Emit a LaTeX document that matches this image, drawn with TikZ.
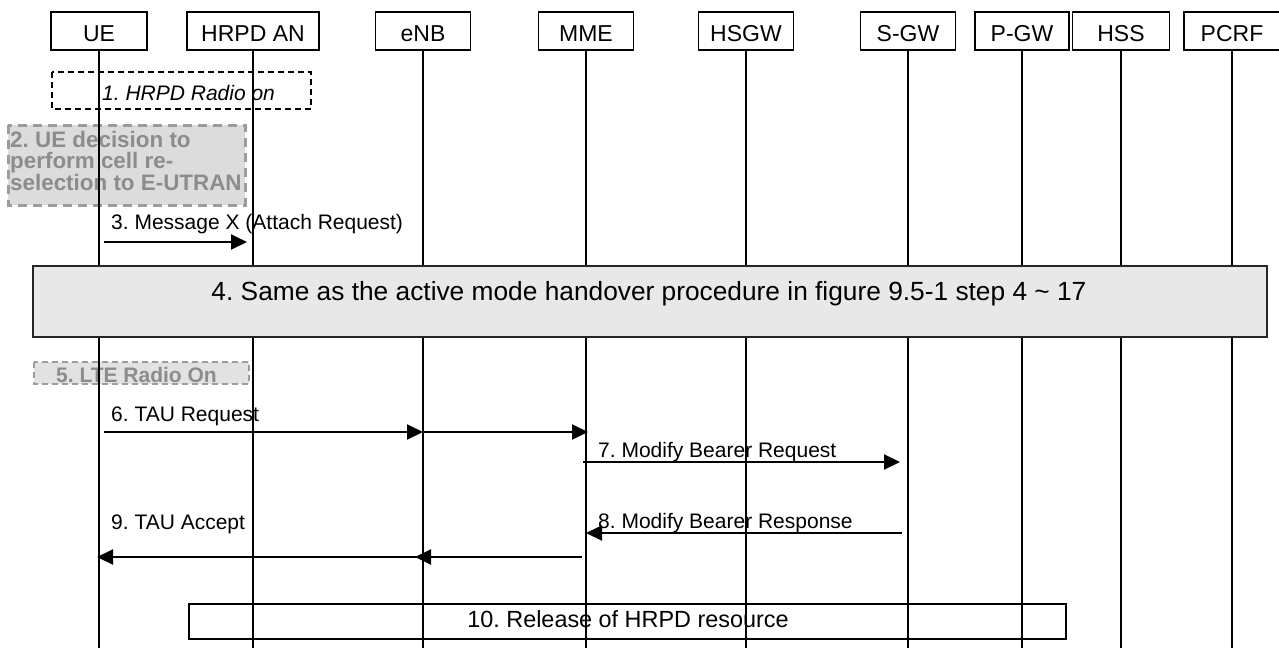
\documentclass[tikz,border=0pt]{standalone}
\usepackage{fontspec}
\setmainfont{Liberation Sans}
\usetikzlibrary{arrows.meta}
\definecolor{dgray}{HTML}{9C9C9C}
\definecolor{tgray}{HTML}{8C8C8C}
\definecolor{fillA}{HTML}{DCDCDC}
\definecolor{fillB}{HTML}{E2E2E2}
\definecolor{fillC}{HTML}{E8E8E8}
\tikzset{
  hdr/.style={draw, line width=1.7pt, fill=white, inner sep=0pt, minimum height=38pt,
    text height=20pt, text depth=0pt, font=\fontsize{23}{27}\selectfont},
  life/.style={line width=1.5pt},
  msg/.style={line width=2pt, -{Triangle[length=16pt,width=15pt]}},
  lbl/.style={anchor=base west, inner sep=0pt, font=\fontsize{21}{25}\selectfont},
  graybox/.style={draw=dgray, line width=3pt, dash pattern=on 9pt off 6pt, fill=fillA},
  graybox2/.style={draw=dgray, line width=2pt, dash pattern=on 6pt off 4pt, fill=fillB},
  blackdash/.style={draw=black, line width=2pt, dash pattern=on 6pt off 4pt},
  graytxt/.style={inner sep=0pt, text=tgray, font=\bfseries}
}
\begin{document}
\frenchspacing
\begin{tikzpicture}[x=1pt,y=-1pt]
\useasboundingbox (0,0) rectangle (1279,648);
\fill[white] (0,0) rectangle (1279,648);
\coordinate (bot) at (0,648);
% header boxes
\node[hdr, minimum width=96pt]  (ue)   at (99,31)   {UE};
\node[hdr, minimum width=132pt] (hrpd) at (253,31)  {HRPD AN};
\node[hdr, minimum width=95pt]  (enb)  at (423,31)  {eNB};
\node[hdr, minimum width=95pt]  (mme)  at (586,31)  {MME};
\node[hdr, minimum width=95pt]  (hsgw) at (746,31)  {HSGW};
\node[hdr, minimum width=95pt]  (sgw)  at (908,31)  {S-GW};
\node[hdr, minimum width=94pt]  (pgw)  at (1022,31) {P-GW};
\node[hdr, minimum width=97pt]  (hss)  at (1121,31) {HSS};
\node[hdr, minimum width=96pt]  (pcrf) at (1232,31) {PCRF};
% step boxes under lifelines
\draw[graybox] (8,125) rectangle (245,205);
\node[graytxt, anchor=north west, align=left, font=\fontsize{22.4}{20.7}\selectfont\bfseries] (t2) at (10,131)
  {2. UE decision to\\perform cell re-\\selection to E-UTRAN};
\draw[graybox2] (34,362) rectangle (249,384);
\node[graytxt, anchor=base west, font=\fontsize{21}{25}\selectfont\bfseries] (t5) at (56,382) {5. LTE Radio On};
\draw[blackdash] (52,72) rectangle (311,109);
\node[anchor=base west, inner sep=0pt, font=\fontsize{21}{25}\selectfont\itshape] (t1) at (102,100) {1. HRPD Radio on};
% lifelines
\foreach \n in {ue,hrpd,enb,mme,hsgw,sgw,pgw,hss,pcrf}
  \draw[life] (\n.south) -- (\n.south |- bot);
% step 4
\draw[line width=2pt, draw=black!85, fill=fillC] (33,266) rectangle (1267,337);
\node[anchor=base, inner sep=0pt, font=\fontsize{26.3}{30}\selectfont] (t4) at (649,300)
  {4. Same as the active mode handover procedure in figure 9.5-1 step 4 \textasciitilde{} 17};
% step 10
\draw[line width=2pt] (189,604) rectangle (1066,639);
\node[anchor=base, inner sep=0pt, font=\fontsize{23.4}{27}\selectfont] (t10) at (628,627) {10. Release of HRPD resource};
% message rows
\coordinate (y3) at (0,242);
\coordinate (y6) at (0,432);
\coordinate (y7) at (0,462);
\coordinate (y8) at (0,533);
\coordinate (y9) at (0,557);
% 3
\draw[msg, shorten <=5pt, shorten >=6pt] (ue |- y3) -- (hrpd |- y3);
\node[lbl] (t3) at (111,229) {3. Message X (Attach Request)};
% 6
\draw[msg, shorten <=5pt] (ue |- y6) -- (enb |- y6);
\draw[msg, shorten >=-2pt] (enb |- y6) -- (mme |- y6);
\node[lbl] (t6) at (111,421) {6. TAU Request};
% 7
\draw[msg, shorten <=-3pt, shorten >=8pt] (mme |- y7) -- (sgw |- y7);
\node[lbl] (t7) at (598,457) {7. Modify Bearer Request};
% 8
\draw[msg, shorten <=6pt] (sgw |- y8) -- (mme |- y8);
\node[lbl] (t8) at (598,528) {8. Modify Bearer Response};
% 9
\draw[msg, shorten <=4pt, shorten >=-8pt] (mme |- y9) -- (enb |- y9);
\draw[msg, shorten >=-2pt] (enb |- y9) -- (ue |- y9);
\node[lbl] (t9) at (111,529) {9. TAU Accept};
\end{tikzpicture}
\end{document}
